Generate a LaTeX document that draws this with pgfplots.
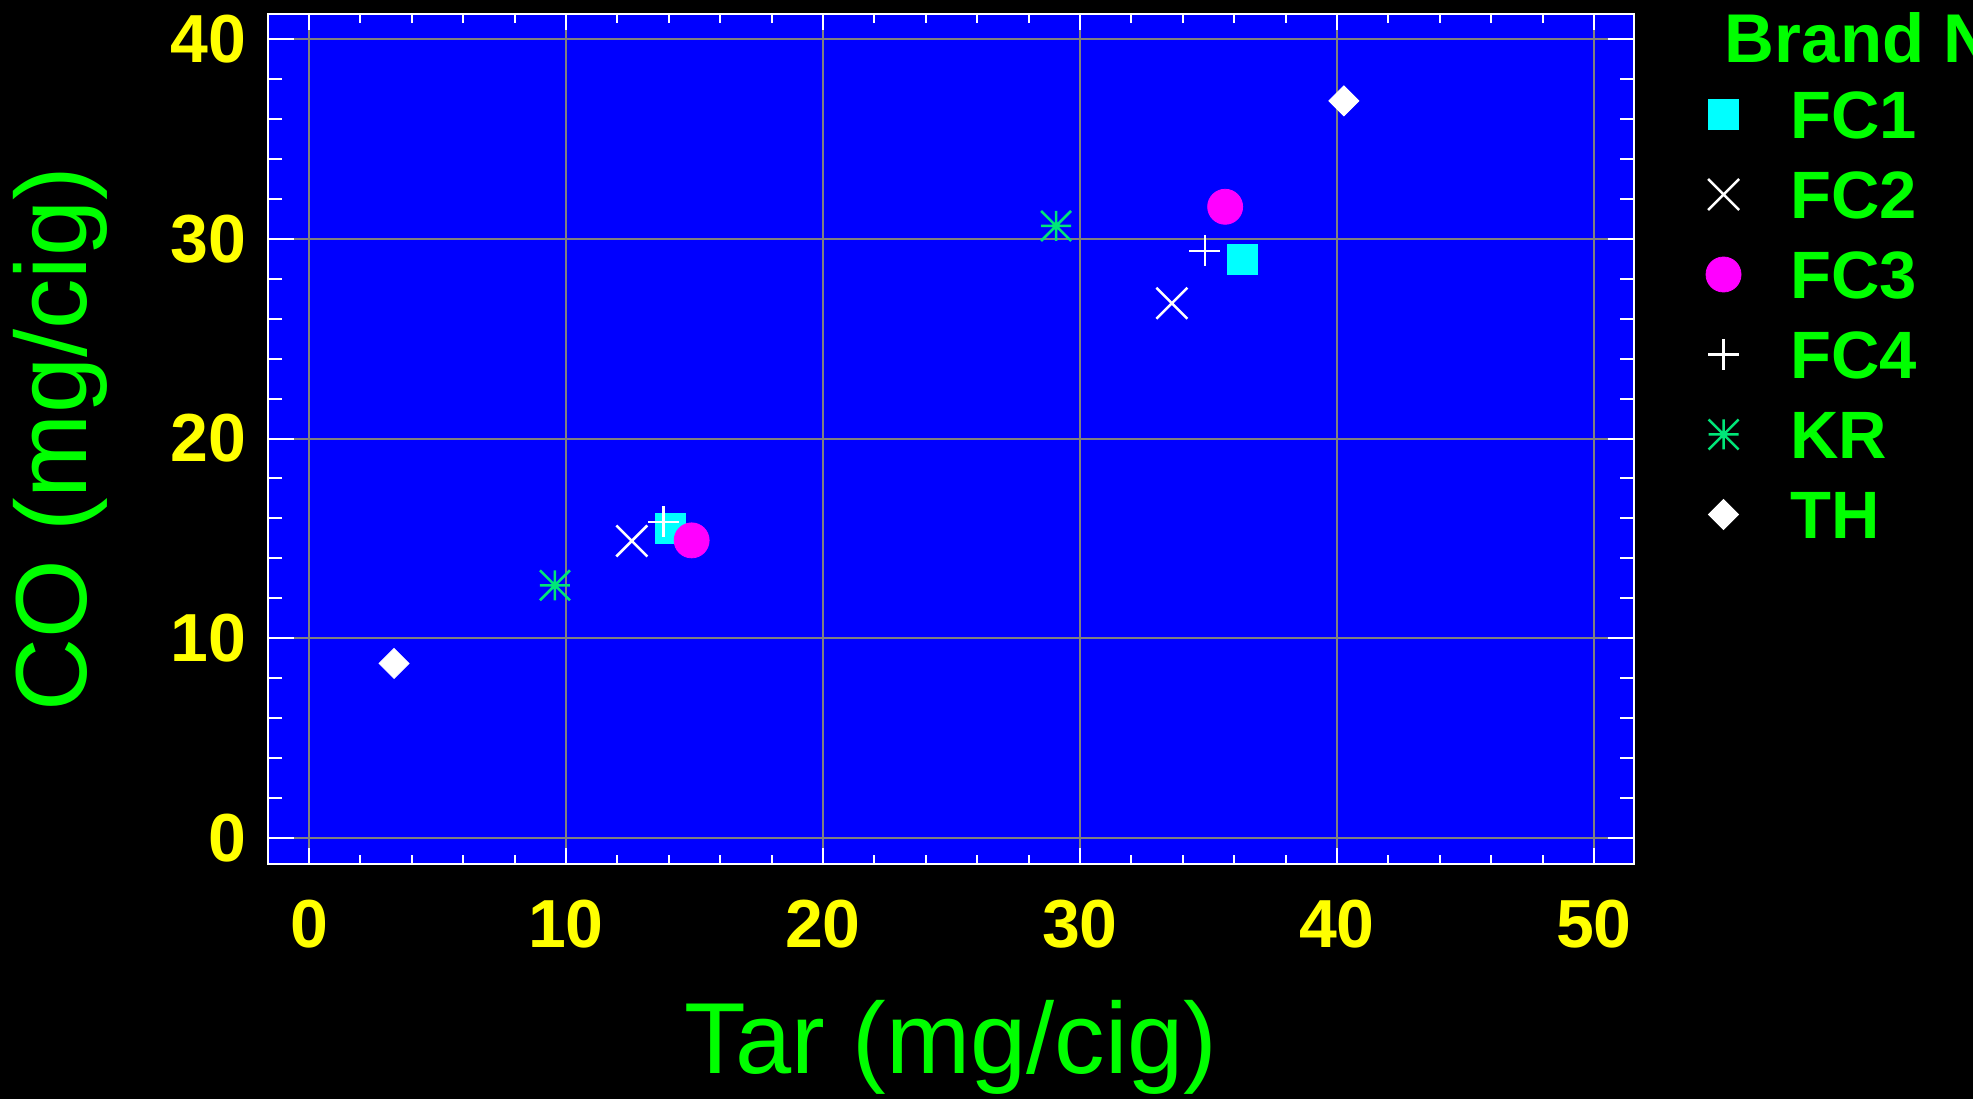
\documentclass[border=0pt]{standalone}
\usepackage{pgfplots}
\pgfplotsset{compat=1.18}
\usepackage{fontspec}
\setmainfont{Liberation Sans}
\definecolor{bgblue}{RGB}{0,0,255}
\definecolor{lgreen}{RGB}{0,255,0}
\definecolor{tyellow}{RGB}{255,255,0}
\definecolor{gridgray}{RGB}{128,128,128}
\definecolor{fcyan}{RGB}{0,255,255}
\definecolor{fmag}{RGB}{255,0,255}
\definecolor{krgreen}{RGB}{0,230,120}
\pgfdeclareplotmark{star8}{%
  \pgfpathmoveto{\pgfqpoint{-\pgfplotmarksize}{0pt}}\pgfpathlineto{\pgfqpoint{\pgfplotmarksize}{0pt}}%
  \pgfpathmoveto{\pgfqpoint{0pt}{-\pgfplotmarksize}}\pgfpathlineto{\pgfqpoint{0pt}{\pgfplotmarksize}}%
  \pgfpathmoveto{\pgfqpoint{-\pgfplotmarksize}{-\pgfplotmarksize}}\pgfpathlineto{\pgfqpoint{\pgfplotmarksize}{\pgfplotmarksize}}%
  \pgfpathmoveto{\pgfqpoint{-\pgfplotmarksize}{\pgfplotmarksize}}\pgfpathlineto{\pgfqpoint{\pgfplotmarksize}{-\pgfplotmarksize}}%
  \pgfusepathqstroke}
\begin{document}
\begin{tikzpicture}
\fill[black] (0,0) rectangle (986.5pt,549.5pt);
\path[use as bounding box] (0,0) rectangle (986.5pt,549.5pt);
\begin{scope}
\clip (0,0) rectangle (986.5pt,549.5pt);
\begin{axis}[
  at={(134pt,117.5pt)}, anchor=south west,
  scale only axis, width=683pt, height=425pt,
  xmin=-1.595, xmax=51.56, ymin=-1.30, ymax=41.25,
  xtick={0,10,20,30,40,50}, ytick={0,10,20,30,40},
  minor x tick num=4, minor y tick num=4,
  tick align=inside, tick pos=both,
  axis background/.style={fill=bgblue},
  axis line style={white, line width=1pt},
  every tick/.style={white, line width=1pt},
  xtick style={/pgfplots/major tick length=8pt, /pgfplots/minor tick length=4.5pt},
  ytick style={/pgfplots/major tick length=13pt, /pgfplots/minor tick length=7pt},
  major tick length=13pt, minor tick length=7pt,
  xmajorgrids, ymajorgrids,
  major grid style={gridgray, line width=1pt},
  /pgf/number format/assume math mode=true,
  ticklabel style={font=\bfseries\fontsize{34}{34}\selectfont, text=tyellow, inner sep=0pt},
  xticklabel style={anchor=north, yshift=-18pt},
  yticklabel style={anchor=east, xshift=-10.5pt},
  xlabel={Tar (mg/cig)}, ylabel={CO (mg/cig)},
  every axis x label/.style={at={(axis description cs:0.5,-0.2459)}, anchor=base, font=\fontsize{50.5}{51}\selectfont, text=lgreen},
  every axis y label/.style={at={(axis description cs:-0.1325,0.5)}, rotate=90, anchor=base, font=\fontsize{50.5}{51}\selectfont, text=lgreen},
  clip=false,
  legend cell align=left,
  legend style={at={(axis description cs:1.0527,0.9100)}, anchor=north west, draw=none, fill=none,
    inner sep=0pt, outer sep=0pt, row sep=16pt, column sep=24.75pt,
    font=\bfseries\fontsize{33.5}{34}\selectfont, text=lgreen,
    nodes={inner sep=0pt, text height=24pt, text depth=0pt}},
]
\addplot[only marks, mark=square*, mark size=7.5pt, color=fcyan, mark options={rounded corners=1pt}]
  coordinates {(14.07,15.50) (36.32,28.97)};
\addlegendentry{FC1}
\addplot[only marks, mark=x, mark size=10.96pt, color=white, line width=1.25pt]
  coordinates {(12.56,14.87) (33.58,26.77)};
\addlegendentry{FC2}
\addplot[only marks, mark=*, mark size=8.75pt, color=fmag]
  coordinates {(14.89,14.90) (35.65,31.60)};
\addlegendentry{FC3}
\addplot[only marks, mark=+, mark size=7.75pt, color=white, line width=1.25pt]
  coordinates {(13.79,15.83) (34.86,29.39)};
\addlegendentry{FC4}
\addplot[only marks, mark=star8, mark size=7.5pt, color=krgreen, line width=1.25pt]
  coordinates {(9.57,12.65) (29.07,30.64)};
\addlegendentry{KR}
\addplot[only marks, mark=square*, mark size=5.3pt, color=white, mark options={rotate=45, rounded corners=1pt}]
  coordinates {(3.31,8.74) (40.27,36.90)};
\addlegendentry{TH}
\node[anchor=base west, inner sep=0pt, font=\bfseries\fontsize{34.5}{35}\selectfont, text=lgreen]
  at (axis description cs:1.0663,0.9429) {Brand Name};
\end{axis}
\end{scope}
\end{tikzpicture}
\end{document}
